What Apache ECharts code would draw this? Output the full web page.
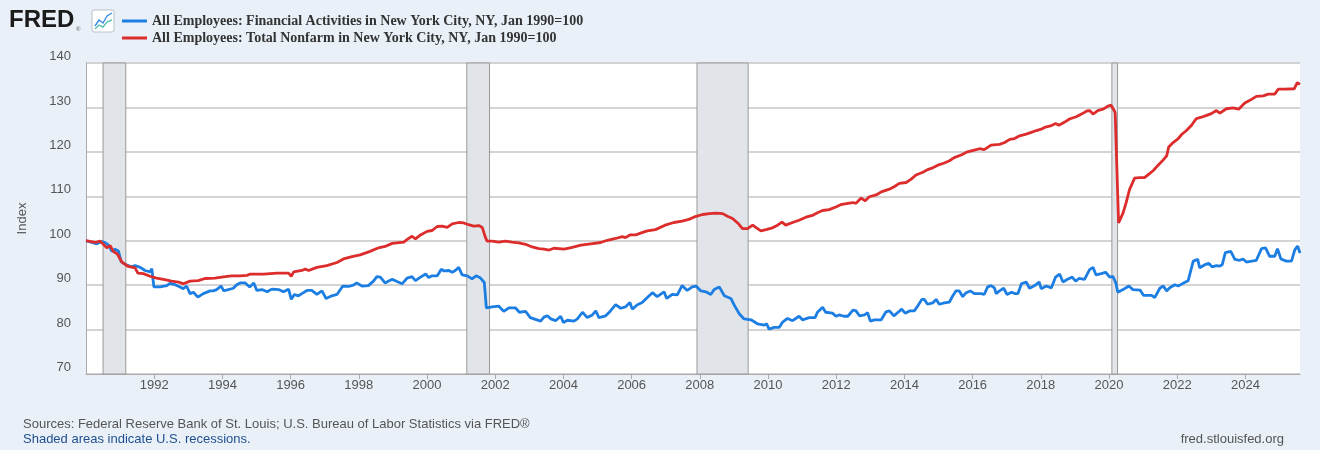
<!DOCTYPE html>
<html>
<head>
<meta charset="utf-8">
<script src="https://cdn.jsdelivr.net/npm/echarts@6/dist/echarts.min.js"></script>
<style>
  html, body { margin: 0; padding: 0; background: #e9f0f8; }
  #chart { width: 1320px; height: 450px; }
</style>
</head>
<body>
<div id="chart"></div>
<script>
// decimal years
var finYears = [
  1990.00, 1990.17, 1990.32, 1990.46, 1990.56, 1990.66, 1990.76, 1990.85, 1990.95, 1991.03,
  1991.15, 1991.34, 1991.44, 1991.59, 1991.73, 1991.88, 1991.93, 1991.99, 1992.17, 1992.37,
  1992.46, 1992.61, 1992.76, 1992.85, 1992.95, 1993.05, 1993.15, 1993.28, 1993.44, 1993.64,
  1993.73, 1993.83, 1993.96, 1994.04, 1994.12, 1994.32, 1994.42, 1994.52,
  1994.67, 1994.80, 1994.92, 1995.01, 1995.16, 1995.31, 1995.45, 1995.65, 1995.79, 1995.94,
  1996.02, 1996.11, 1996.23, 1996.33, 1996.48, 1996.62, 1996.77, 1996.92, 1997.04, 1997.21,
  1997.36, 1997.53, 1997.70, 1997.84, 1997.94, 1998.09, 1998.28, 1998.43, 1998.53, 1998.63,
  1998.77, 1998.92, 1998.98,
  1999.12, 1999.27, 1999.42, 1999.56, 1999.66, 1999.81, 1999.96, 2000.05, 2000.15, 2000.30,
  2000.42, 2000.49, 2000.64, 2000.74, 2000.83, 2000.93, 2001.03, 2001.18, 2001.32, 2001.44,
  2001.57, 2001.68, 2001.74, 2001.91, 2002.10, 2002.25, 2002.40, 2002.59, 2002.71, 2002.89,
  2003.03, 2003.18, 2003.33, 2003.43,
  2003.53, 2003.63, 2003.77, 2003.92, 2004.00, 2004.12, 2004.31, 2004.41, 2004.56, 2004.70,
  2004.85, 2004.95, 2005.04, 2005.24, 2005.38, 2005.53, 2005.68, 2005.82, 2005.95, 2006.02,
  2006.17, 2006.31, 2006.46, 2006.61, 2006.75, 2006.95, 2007.03, 2007.19, 2007.34, 2007.48,
  2007.63, 2007.78, 2007.89,
  2008.03, 2008.18, 2008.32, 2008.42, 2008.57, 2008.72, 2008.91, 2009.01, 2009.16, 2009.30,
  2009.50, 2009.69, 2009.89, 2009.96, 2010.03, 2010.18, 2010.33, 2010.42, 2010.57, 2010.72,
  2010.91, 2011.01, 2011.21, 2011.38, 2011.45, 2011.60, 2011.69, 2011.89, 2011.99, 2012.08,
  2012.23, 2012.34,
  2012.49, 2012.58, 2012.68, 2012.83, 2012.92, 2013.00, 2013.12, 2013.32, 2013.46, 2013.56,
  2013.69, 2013.80, 2013.92, 2014.02, 2014.15, 2014.29, 2014.39, 2014.51, 2014.58, 2014.68,
  2014.83, 2014.93, 2015.02, 2015.17, 2015.32, 2015.41, 2015.51, 2015.61, 2015.71, 2015.81,
  2015.93, 2016.05, 2016.25, 2016.34, 2016.44, 2016.54, 2016.64, 2016.69, 2016.79,
  2016.91, 2017.01, 2017.14, 2017.23, 2017.33, 2017.43, 2017.57, 2017.67, 2017.82, 2017.95,
  2018.01, 2018.16, 2018.31, 2018.43, 2018.55, 2018.65, 2018.80, 2018.92, 2019.02, 2019.12,
  2019.28, 2019.43, 2019.53, 2019.62, 2019.77, 2019.90, 2020.02, 2020.11, 2020.19, 2020.26,
  2020.41, 2020.58, 2020.70, 2020.91, 2021.01, 2021.25,
  2021.34, 2021.49, 2021.59, 2021.69, 2021.78, 2021.93, 2022.03, 2022.17, 2022.32, 2022.47,
  2022.60, 2022.66, 2022.81, 2022.93, 2023.02, 2023.15, 2023.25, 2023.32, 2023.41, 2023.57,
  2023.69, 2023.83, 2023.93, 2024.03, 2024.18, 2024.32, 2024.47, 2024.59, 2024.71, 2024.86,
  2024.94, 2025.04, 2025.20, 2025.35, 2025.45, 2025.53, 2025.60
];
var finValues = [
  100, 99.6, 99.3, 99.8, 99.6, 99.0, 97.6, 98.1, 97.7, 95.3,
  94.7, 94.1, 94.4, 94.0, 93.3, 93.0, 93.7, 89.6, 89.6, 89.9,
  90.4, 90.1, 89.6, 89.2, 89.8, 88.1, 88.4, 87.3, 88.1, 88.7,
  88.7, 89.0, 89.8, 88.7, 88.9, 89.3, 90.1, 90.5,
  90.5, 89.6, 90.5, 88.8, 89.0, 88.5, 89.1, 89.0, 88.5, 89.1,
  86.8, 87.9, 87.6, 88.1, 88.8, 88.8, 87.9, 88.7, 87.0, 87.6,
  87.9, 89.8, 89.7, 90.0, 90.5, 89.8, 89.9, 90.9, 91.9, 91.8,
  90.5, 91.1, 91.3,
  90.8, 90.3, 91.6, 91.9, 91.0, 91.8, 92.5, 91.7, 92.1, 92.1,
  93.6, 93.2, 93.3, 92.9, 93.3, 94.0, 92.3, 92.1, 91.4, 92.1,
  91.6, 90.6, 84.9, 85.1, 85.3, 84.1, 84.9, 84.9, 83.9, 84.1,
  82.7, 82.3, 81.9, 82.8,
  83.1, 82.4, 82.0, 83.0, 81.6, 82.1, 81.9, 82.4, 83.9, 82.7,
  83.3, 84.2, 82.7, 83.1, 84.2, 85.6, 84.8, 85.1, 86.1, 84.6,
  85.6, 86.1, 87.2, 88.3, 87.4, 88.5, 87.0, 87.9, 87.8, 89.9,
  88.8, 89.6, 89.8,
  88.7, 88.5, 87.9, 89.0, 89.6, 87.6, 87.0, 85.5, 83.5, 82.4,
  82.2, 81.3, 81.0, 81.3, 80.1, 80.5, 80.5, 81.6, 82.5, 82.0,
  83.0, 82.2, 82.7, 82.7, 83.9, 85.0, 83.9, 83.7, 83.0, 83.3,
  83.0, 83.0,
  84.4, 84.2, 83.1, 83.3, 83.8, 81.9, 82.2, 82.2, 84.0, 84.2,
  83.1, 83.8, 84.6, 83.7, 84.2, 84.2, 85.3, 86.8, 86.8, 85.7,
  86.0, 86.8, 85.7, 86.0, 86.2, 87.5, 88.7, 88.7, 87.4, 88.3,
  88.7, 88.1, 88.1, 87.9, 89.6, 89.9, 89.4, 88.1, 88.7,
  89.3, 87.9, 88.4, 88.1, 88.1, 90.3, 90.7, 89.3, 89.9, 90.7,
  89.2, 89.8, 89.4, 91.8, 92.5, 90.7, 91.4, 91.8, 90.9, 91.5,
  91.3, 93.5, 94.0, 92.3, 92.6, 92.9, 91.8, 92.0, 90.7, 88.4,
  89.0, 89.8, 89.0, 88.9, 87.7, 87.7,
  87.2, 89.3, 89.8, 88.7, 89.4, 90.1, 89.8, 90.4, 91.0, 95.4,
  95.8, 93.9, 94.6, 94.9, 94.1, 94.4, 94.3, 94.6, 97.3, 97.6,
  95.8, 95.6, 95.9, 95.2, 95.4, 95.6, 98.2, 98.4, 96.5, 96.5,
  98.2, 95.9, 95.4, 95.4, 98.0, 98.8, 97.2
];

var totYears = [
  1990.00, 1990.27, 1990.41, 1990.51, 1990.61, 1990.71, 1990.80, 1990.92, 1991.05, 1991.24,
  1991.44, 1991.52, 1991.68, 1991.88, 1992.07, 1992.27, 1992.51, 1992.71, 1992.86, 1993.05,
  1993.29, 1993.49, 1993.78, 1994.08, 1994.27, 1994.52,
  1994.72, 1994.82, 1995.21, 1995.60, 1995.94, 1996.02, 1996.09, 1996.33, 1996.43, 1996.53,
  1996.77, 1997.06, 1997.36, 1997.55, 1997.80, 1998.04, 1998.33, 1998.58, 1998.77, 1998.98,
  1999.32, 1999.42, 1999.56, 1999.66, 1999.81, 2000.00, 2000.15, 2000.30, 2000.44, 2000.59,
  2000.74, 2000.93, 2001.08, 2001.22, 2001.37, 2001.52, 2001.62, 2001.71, 2001.76, 2001.91,
  2002.10, 2002.30, 2002.49, 2002.69, 2002.89, 2003.08, 2003.28, 2003.43,
  2003.58, 2003.72, 2004.02, 2004.26, 2004.51, 2004.80, 2005.09, 2005.29, 2005.53, 2005.73,
  2005.82, 2005.95, 2006.12, 2006.26, 2006.46, 2006.70, 2006.98, 2007.24, 2007.48, 2007.68,
  2007.89,
  2008.08, 2008.28, 2008.47, 2008.67, 2008.81, 2008.96, 2009.11, 2009.25, 2009.40, 2009.55,
  2009.64, 2009.79, 2009.94, 2010.13, 2010.28, 2010.41, 2010.52, 2010.72, 2010.91, 2011.11,
  2011.30, 2011.45, 2011.60, 2011.79, 2011.99, 2012.13, 2012.34,
  2012.49, 2012.58, 2012.73, 2012.85, 2012.97, 2013.17, 2013.32, 2013.56, 2013.71, 2013.85,
  2014.05, 2014.19, 2014.34, 2014.54, 2014.68, 2014.83, 2014.98, 2015.17, 2015.32, 2015.46,
  2015.66, 2015.85, 2016.05, 2016.20, 2016.34, 2016.54, 2016.79,
  2016.94, 2017.09, 2017.23, 2017.38, 2017.57, 2017.72, 2017.87, 2018.01, 2018.11, 2018.31,
  2018.43, 2018.53, 2018.70, 2018.84, 2019.04, 2019.19, 2019.35, 2019.43, 2019.53, 2019.67,
  2019.82, 2019.97, 2020.06, 2020.13, 2020.18, 2020.28, 2020.41, 2020.50, 2020.60, 2020.75,
  2020.89, 2021.04, 2021.17,
  2021.30, 2021.44, 2021.59, 2021.69, 2021.75, 2021.88, 2022.03, 2022.13, 2022.27, 2022.42,
  2022.56, 2022.71, 2022.86, 2023.00, 2023.15, 2023.25, 2023.44, 2023.64, 2023.80, 2023.98,
  2024.13, 2024.32, 2024.52, 2024.67, 2024.86, 2024.96, 2025.15, 2025.43, 2025.52, 2025.60
];
var totValues = [
  100, 99.6, 99.9, 99.2, 98.4, 98.9, 97.6, 97.0, 95.2, 94.2,
  93.9, 92.7, 92.6, 92.0, 91.6, 91.3, 90.9, 90.7, 90.3, 90.9,
  91.0, 91.5, 91.6, 91.9, 92.1, 92.1,
  92.2, 92.5, 92.5, 92.7, 92.7, 92.0, 93.0, 93.3, 93.6, 93.3,
  94.0, 94.4, 95.1, 95.9, 96.4, 96.8, 97.6, 98.4, 98.7, 99.4,
  99.7, 100.3, 101.0, 100.4, 101.3, 102.1, 102.3, 103.2, 103.3, 103.0,
  103.8, 104.1, 104.0, 103.6, 103.3, 103.4, 103.0, 100.8, 99.9, 99.9,
  99.7, 99.9, 99.7, 99.5, 99.2, 98.6, 98.2, 98.1,
  97.9, 98.3, 98.1, 98.5, 99.0, 99.3, 99.6, 100.1, 100.5, 100.9,
  100.7, 101.3, 101.3, 101.7, 102.2, 102.5, 103.5, 104.1, 104.4, 104.8,
  105.5,
  105.9, 106.1, 106.2, 106.1, 105.5, 105.0, 104.0, 102.7, 102.7, 103.5,
  103.0, 102.2, 102.5, 102.9, 103.5, 104.2, 103.5, 104.1, 104.6, 105.3,
  105.7, 106.3, 106.8, 107.0, 107.6, 108.1, 108.4,
  108.6, 108.4, 109.6, 109.0, 109.9, 110.3, 111.0, 111.6, 112.2, 112.9,
  113.1, 113.8, 114.8, 115.4, 116.0, 116.4, 117.0, 117.5, 118.0, 118.7,
  119.3, 120.0, 120.4, 120.7, 120.5, 121.5, 121.7,
  122.1, 122.8, 123.0, 123.6, 124.0, 124.4, 124.8, 125.1, 125.5, 125.9,
  126.4, 126.0, 126.7, 127.4, 127.9, 128.5, 129.2, 129.3, 128.5, 129.3,
  129.6, 130.3, 130.5, 129.6, 128.8, 104.0, 106.2, 108.5, 111.5, 114.1,
  114.2, 114.2, 115.0,
  115.8, 117.0, 118.2, 119.1, 121.1, 122.1, 123.0, 123.9, 124.8, 126.0,
  127.5, 127.8, 128.2, 128.6, 129.3, 128.7, 129.7, 129.9, 129.6, 131.0,
  131.6, 132.5, 132.6, 133.0, 133.0, 134.1, 134.1, 134.2, 135.6, 135.2
];

// US recessions (decimal years)
var recessionStart = [1990.5, 2001.167, 2007.917, 2020.083];
var recessionEnd = [1991.167, 2001.833, 2009.417, 2020.25];

var finName = 'All Employees: Financial Activities in New York City, NY, Jan 1990=100';
var totName = 'All Employees: Total Nonfarm in New York City, NY, Jan 1990=100';

function pairs(xs, ys) {
  var out = [];
  for (var i = 0; i < xs.length; i++) out.push([xs[i], ys[i]]);
  return out;
}

var recessionAreas = [];
for (var i = 0; i < recessionStart.length; i++) {
  recessionAreas.push([{ xAxis: recessionStart[i] }, { xAxis: recessionEnd[i] }]);
}

var chart = echarts.init(document.getElementById('chart'), null, { renderer: 'canvas' });
var option = {
  backgroundColor: '#e9f0f8',
  animation: false,
  color: ['#1c7ee2', '#dc2c2c'],
  grid: {
    left: 86, right: 20, top: 63, bottom: 76,
    show: true, backgroundColor: '#ffffff', borderWidth: 0
  },
  legend: {
    orient: 'vertical',
    left: 117, top: 9,
    itemWidth: 25, itemHeight: 3, itemGap: 3,
    icon: 'rect',
    selectedMode: false,
    data: [finName, totName],
    textStyle: {
      fontFamily: '"Liberation Serif", "DejaVu Serif", serif',
      fontWeight: 'bold', fontSize: 14, color: '#333'
    }
  },
  xAxis: {
    type: 'value',
    min: 1990, max: 2025.6, interval: 2,
    axisLine: { show: true, lineStyle: { color: '#aaa', width: 1 } },
    axisTick: { show: true, length: 5, lineStyle: { color: '#aaa' } },
    splitLine: { show: false },
    axisLabel: {
      showMinLabel: false, showMaxLabel: false,
      margin: 5,
      color: '#555', fontSize: 13,
      fontFamily: '"Liberation Sans", Arial, sans-serif',
      formatter: function (v) { return String(v); }
    }
  },
  yAxis: {
    type: 'value',
    min: 70, max: 140, interval: 10,
    name: 'Index', nameLocation: 'middle', nameGap: 57,
    nameTextStyle: { color: '#555', fontSize: 13, fontFamily: '"Liberation Sans", Arial, sans-serif' },
    axisLine: { show: true, lineStyle: { color: '#aaa', width: 1 } },
    axisTick: { show: false },
    splitLine: { show: true, lineStyle: { color: '#c6c6c6', width: 1.5 } },
    axisLabel: {
      margin: 15, verticalAlign: 'bottom',
      color: '#555', fontSize: 13,
      fontFamily: '"Liberation Sans", Arial, sans-serif'
    }
  },
  series: [
    {
      name: finName,
      type: 'line',
      data: pairs(finYears, finValues),
      showSymbol: false,
      lineStyle: { width: 2.8 },
      markArea: {
        silent: true,
        itemStyle: { color: '#e1e5ea', borderColor: '#999', borderWidth: 1 },
        data: recessionAreas
      }
    },
    {
      name: totName,
      type: 'line',
      data: pairs(totYears, totValues),
      showSymbol: false,
      lineStyle: { width: 2.8 }
    }
  ],
  graphic: [
    {
      type: 'text', left: 9, top: 8,
      style: { text: 'FRED', font: 'bold 24px "Liberation Sans", Arial, sans-serif', fill: '#1b1b1b' }
    },
    {
      type: 'text', left: 76, top: 26,
      style: { text: '®', font: '6px "Liberation Sans", sans-serif', fill: '#555' }
    },
    {
      type: 'rect', shape: { x: 92, y: 10, width: 22, height: 22, r: 2 },
      style: { fill: '#ffffff', stroke: '#b8c2cc', lineWidth: 1 }
    },
    {
      type: 'polyline', shape: { points: [[95, 26], [99, 20], [103, 23], [107, 16], [112, 13]] },
      style: { stroke: '#3a8ee6', lineWidth: 1.4, fill: null }
    },
    {
      type: 'polyline', shape: { points: [[95, 29], [99, 25], [103, 27], [107, 22], [112, 20]] },
      style: { stroke: '#5cc0b0', lineWidth: 1.4, fill: null }
    },
    {
      type: 'text', left: 23, top: 418,
      style: {
        text: 'Sources: Federal Reserve Bank of St. Louis; U.S. Bureau of Labor Statistics via FRED®',
        font: '13px "Liberation Sans", Arial, sans-serif', fill: '#555'
      }
    },
    {
      type: 'text', left: 23, top: 433,
      style: {
        text: 'Shaded areas indicate U.S. recessions.',
        font: '13px "Liberation Sans", Arial, sans-serif', fill: '#1f4f8f'
      }
    },
    {
      type: 'text', right: 36, top: 433,
      style: {
        text: 'fred.stlouisfed.org',
        font: '13px "Liberation Sans", Arial, sans-serif', fill: '#555'
      }
    }
  ]
};
chart.setOption(option);
</script>
</body>
</html>
